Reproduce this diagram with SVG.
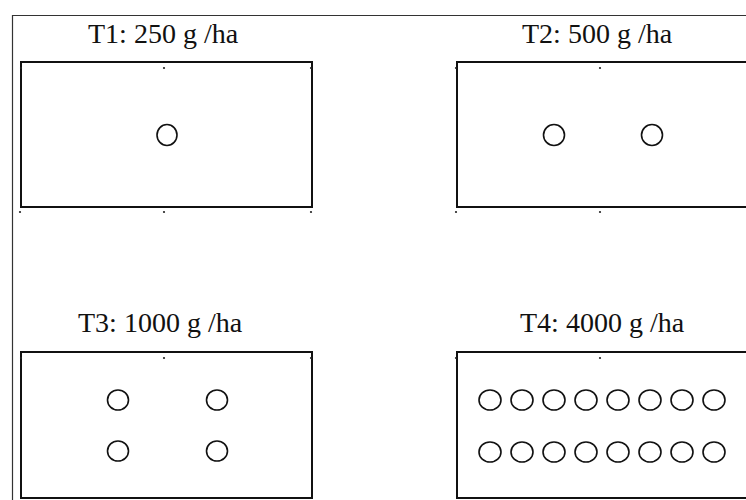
<svg xmlns="http://www.w3.org/2000/svg" width="746" height="500" viewBox="0 0 746 500">
<style>
.frame{fill:none;stroke:#333;stroke-width:1.2}
.plot{fill:#fff;stroke:#111;stroke-width:2}
.hole{fill:none;stroke:#111;stroke-width:1.6}
.dot{fill:#222}
.title{font-family:"Liberation Serif","Times New Roman",serif;font-size:28px;fill:#111}
</style>
<rect width="746" height="500" fill="#fff"/>
<path class="frame" d="M12.5,500 V15.5 H746"/>
<g id="T1">
<text class="title" x="88" y="43">T1: 250 g /ha</text>
<rect class="plot" x="21" y="62" width="291" height="145"/>
<circle class="dot" cx="21" cy="68" r="1.1"/><circle class="dot" cx="164" cy="68" r="1.1"/><circle class="dot" cx="311" cy="68" r="1.1"/>
<circle class="dot" cx="20" cy="212" r="1.1"/><circle class="dot" cx="164" cy="212" r="1.1"/><circle class="dot" cx="311" cy="212" r="1.1"/>
<ellipse class="hole" cx="167" cy="135" rx="10" ry="10.5"/>
</g>
<g id="T2">
<text class="title" x="522" y="43">T2: 500 g /ha</text>
<rect class="plot" x="457" y="62" width="300" height="145"/>
<circle class="dot" cx="456" cy="68" r="1.1"/><circle class="dot" cx="600" cy="68" r="1.1"/>
<circle class="dot" cx="456" cy="212" r="1.1"/><circle class="dot" cx="600" cy="212" r="1.1"/>
<ellipse class="hole" cx="554" cy="135" rx="10.5" ry="10.5"/>
<ellipse class="hole" cx="652" cy="135" rx="10.5" ry="10.5"/>
</g>
<g id="T3">
<text class="title" x="78" y="332">T3: 1000 g /ha</text>
<rect class="plot" x="21" y="352" width="291" height="146"/>
<circle class="dot" cx="21" cy="358" r="1.1"/><circle class="dot" cx="164" cy="358" r="1.1"/><circle class="dot" cx="311" cy="358" r="1.1"/>
<ellipse class="hole" cx="118" cy="400" rx="10.5" ry="10"/>
<ellipse class="hole" cx="217" cy="400" rx="10.5" ry="10"/>
<ellipse class="hole" cx="118" cy="451" rx="10.5" ry="10"/>
<ellipse class="hole" cx="217" cy="451" rx="10.5" ry="10"/>
</g>
<g id="T4">
<text class="title" x="520" y="332">T4: 4000 g /ha</text>
<rect class="plot" x="457" y="352" width="300" height="146"/>
<circle class="dot" cx="456" cy="358" r="1.1"/><circle class="dot" cx="600" cy="358" r="1.1"/>
<g>
<ellipse class="hole" cx="490" cy="400" rx="11" ry="10"/><ellipse class="hole" cx="522" cy="400" rx="11" ry="10"/><ellipse class="hole" cx="554" cy="400" rx="11" ry="10"/><ellipse class="hole" cx="586" cy="400" rx="11" ry="10"/><ellipse class="hole" cx="618" cy="400" rx="11" ry="10"/><ellipse class="hole" cx="650" cy="400" rx="11" ry="10"/><ellipse class="hole" cx="682" cy="400" rx="11" ry="10"/><ellipse class="hole" cx="714" cy="400" rx="11" ry="10"/>
<ellipse class="hole" cx="490" cy="452" rx="11" ry="10"/><ellipse class="hole" cx="522" cy="452" rx="11" ry="10"/><ellipse class="hole" cx="554" cy="452" rx="11" ry="10"/><ellipse class="hole" cx="586" cy="452" rx="11" ry="10"/><ellipse class="hole" cx="618" cy="452" rx="11" ry="10"/><ellipse class="hole" cx="650" cy="452" rx="11" ry="10"/><ellipse class="hole" cx="682" cy="452" rx="11" ry="10"/><ellipse class="hole" cx="714" cy="452" rx="11" ry="10"/>
</g>
</g>
<g id="connectors"/>
</svg>
